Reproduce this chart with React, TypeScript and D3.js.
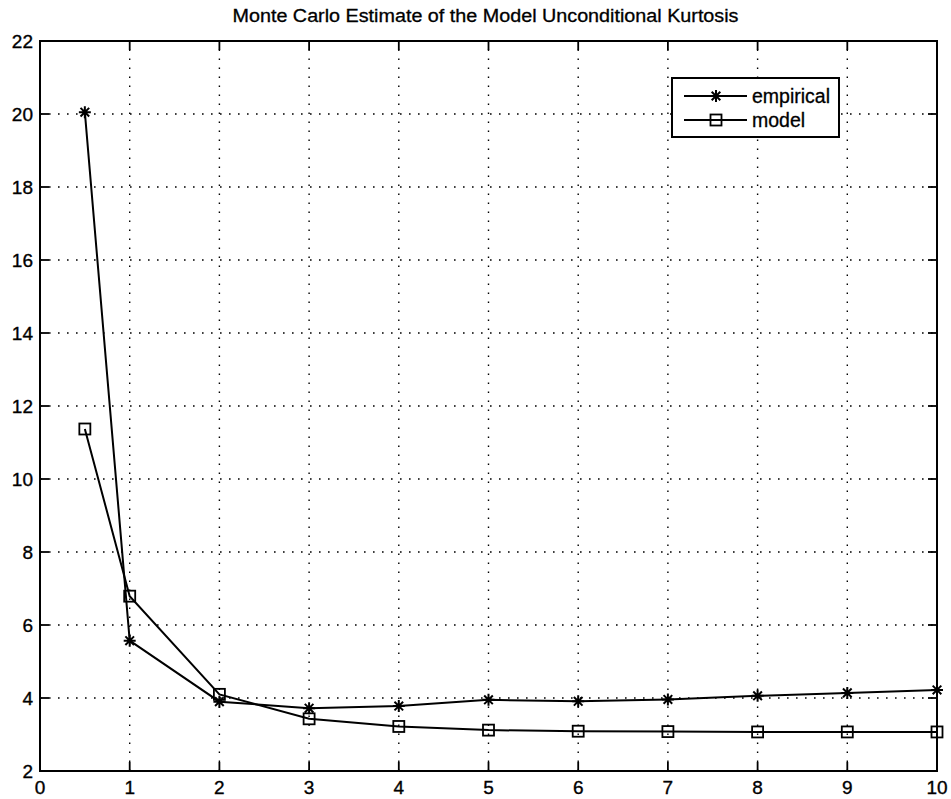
import React from "react";
import * as d3 from "d3";

const xValues = [0.5, 1, 2, 3, 4, 5, 6, 7, 8, 9, 10];
const empirical = [20.05, 5.57, 3.9, 3.72, 3.78, 3.95, 3.91, 3.96, 4.06, 4.14, 4.22];
const model = [11.37, 6.79, 4.1, 3.43, 3.22, 3.12, 3.09, 3.08, 3.07, 3.07, 3.07];
const xTicks = [0, 1, 2, 3, 4, 5, 6, 7, 8, 9, 10];
const yTicks = [2, 4, 6, 8, 10, 12, 14, 16, 18, 20, 22];
const title = "Monte Carlo Estimate of the Model Unconditional Kurtosis";
const legendLabels = ["empirical", "model"];

const W = 951;
const H = 799;
const left = 40;
const right = 937;
const top = 41;
const bottom = 771;
const font = "'Liberation Sans', Arial, Helvetica, sans-serif";

function Star({ cx, cy, r = 6 }: { cx: number; cy: number; r?: number }) {
  const d = r * 0.72;
  return (
    <path
      d={`M${cx - r},${cy}H${cx + r}M${cx},${cy - r}V${cy + r}M${cx - d},${cy - d}L${cx + d},${cy + d}M${cx - d},${cy + d}L${cx + d},${cy - d}`}
      stroke="#000"
      strokeWidth={2}
      fill="none"
    />
  );
}

function Square({ cx, cy, s = 11 }: { cx: number; cy: number; s?: number }) {
  return (
    <rect x={cx - s / 2} y={cy - s / 2} width={s} height={s} fill="none" stroke="#000" strokeWidth={1.8} />
  );
}

export default function App() {
  const x = d3.scaleLinear().domain([0, 10]).range([left, right]);
  const y = d3.scaleLinear().domain([2, 22]).range([bottom, top]);
  const line = d3
    .line<number>()
    .x((_, i) => x(xValues[i]))
    .y((v) => y(v));

  const tickLen = 9;
  const dash = "1.6 7.4";

  const lgX0 = 672;
  const lgX1 = 839;
  const lgY0 = 78;
  const lgY1 = 137;
  const rows = [96, 120];

  return (
    <svg width={W} height={H} style={{ display: "block", position: "absolute", left: 0, top: 0 }}>
      <rect x={0} y={0} width={W} height={H} fill="#fff" />
      <text x={(left + right) / 2 - 3} y={22} textAnchor="middle" fontFamily={font} fontSize={18}
        textLength={506} lengthAdjust="spacingAndGlyphs" fill="#000" stroke="#000" strokeWidth={0.3}>
        {title}
      </text>

      {/* grid */}
      <g stroke="#000" strokeWidth={1.4} strokeDasharray={dash}>
        {xTicks.slice(1, -1).map((t) => (
          <line key={"gx" + t} x1={x(t)} x2={x(t)} y1={bottom} y2={top} />
        ))}
        {yTicks.slice(1, -1).map((t) => (
          <line key={"gy" + t} x1={left} x2={right} y1={y(t)} y2={y(t)} />
        ))}
      </g>

      {/* ticks on all four sides, pointing inward */}
      <g stroke="#000" strokeWidth={1.8}>
        {xTicks.map((t) => (
          <g key={"tx" + t}>
            <line x1={x(t)} x2={x(t)} y1={bottom} y2={bottom - tickLen} />
            <line x1={x(t)} x2={x(t)} y1={top} y2={top + tickLen} />
          </g>
        ))}
        {yTicks.map((t) => (
          <g key={"ty" + t}>
            <line x1={left} x2={left + tickLen} y1={y(t)} y2={y(t)} />
            <line x1={right} x2={right - tickLen} y1={y(t)} y2={y(t)} />
          </g>
        ))}
      </g>

      <rect x={left} y={top} width={right - left} height={bottom - top} fill="none" stroke="#000" strokeWidth={2} />

      {/* tick labels */}
      <g fontFamily={font} fontSize={19} fill="#000" stroke="#000" strokeWidth={0.35}>
        {xTicks.map((t) => (
          <text key={"lx" + t} x={x(t)} y={794} textAnchor="middle">{t}</text>
        ))}
        {yTicks.map((t) => (
          <text key={"ly" + t} x={33} y={y(t) + 7} textAnchor="end">{t}</text>
        ))}
      </g>

      {/* series */}
      <path d={line(empirical) ?? ""} fill="none" stroke="#000" strokeWidth={2} />
      <path d={line(model) ?? ""} fill="none" stroke="#000" strokeWidth={2} />
      {empirical.map((v, i) => (
        <Star key={"e" + i} cx={x(xValues[i])} cy={y(v)} />
      ))}
      {model.map((v, i) => (
        <Square key={"m" + i} cx={x(xValues[i])} cy={y(v)} />
      ))}

      {/* legend */}
      <rect x={lgX0} y={lgY0} width={lgX1 - lgX0} height={lgY1 - lgY0} fill="#fff" stroke="#000" strokeWidth={2} />
      {legendLabels.map((lab, i) => (
        <g key={lab}>
          <line x1={684} x2={747} y1={rows[i]} y2={rows[i]} stroke="#000" strokeWidth={2} />
          {i === 0 ? <Star cx={716} cy={rows[i]} /> : <Square cx={716} cy={rows[i]} />}
          <text x={752} y={rows[i] + 7} fontFamily={font} fontSize={19.5} fill="#000" stroke="#000" strokeWidth={0.3}>{lab}</text>
        </g>
      ))}
    </svg>
  );
}
